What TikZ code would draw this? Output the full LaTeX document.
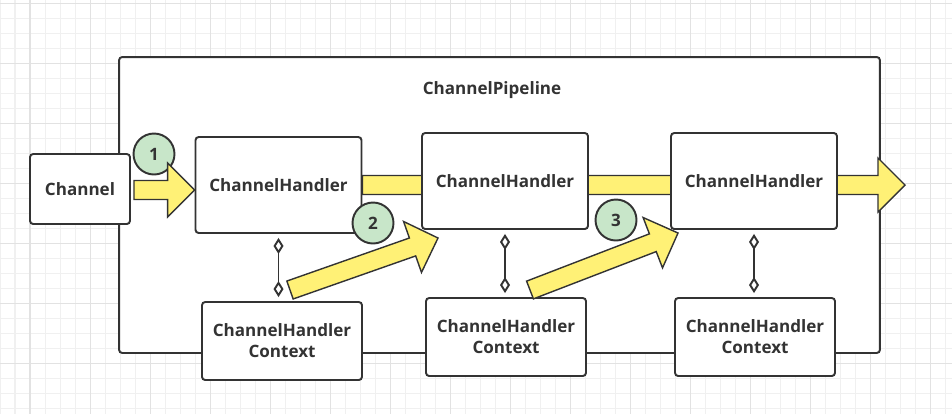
\documentclass[tikz,border=0pt]{standalone}
\usepackage{fontspec}
\setmainfont{Open Sans}
\usetikzlibrary{calc}
\usetikzlibrary{arrows.meta}
\usetikzlibrary{backgrounds}

\definecolor{ink}{HTML}{333333}
\definecolor{flow}{HTML}{FFF176}
\definecolor{stepgreen}{HTML}{C8E6C9}
\definecolor{gridminor}{HTML}{F0F0F0}
\definecolor{gridmajor}{HTML}{E2E2E2}

\tikzset{
    label text/.style={text=ink, font=\fontsize{9.7}{12}\selectfont\bfseries, align=center},
    box/.style={label text, draw=ink, fill=white, line width=1.1pt, rounded corners=1.8pt},
    handler/.style={box, minimum width=3.32cm, minimum height=1.92cm},
    context/.style={box, minimum width=3.2cm, minimum height=1.56cm},
    stepmark/.style={circle, draw=ink, fill=stepgreen, line width=1.1pt, minimum size=0.82cm, inner sep=0pt, label text},
    flowarrow/.style={draw=ink, fill=flow, line width=0.8pt},
    link/.style={draw=ink, line width=1.1pt, {Diamond[open,length=0.32cm,width=0.2cm]}-{Diamond[open,length=0.32cm,width=0.2cm]}, shorten <=0.08cm, shorten >=0.08cm}
}

% fat yellow arrow from #1 to #2
\newcommand\fatarrow[2]{
    \coordinate (fabase) at ($(#2)!0.54cm!(#1)$);
    \draw[flowarrow] ($(#1)!0.19cm!90:(#2)$) -- ($(fabase)!0.19cm!-90:(#1)$)
        -- ($(fabase)!0.54cm!-90:(#1)$) -- (#2) -- ($(fabase)!0.54cm!90:(#1)$)
        -- ($(fabase)!0.19cm!90:(#1)$) -- ($(#1)!0.19cm!-90:(#2)$) -- cycle;
}

\begin{document}
\begin{tikzpicture}[x=0.02cm, y=-0.02cm]
    \useasboundingbox (0,0) rectangle (952,414);

    \begin{scope}[on background layer]
        \foreach \x in {0,15,...,945} \draw[gridminor, line width=0.57pt] (\x,0) -- (\x,414);
        \foreach \y in {3,18,...,408} \draw[gridminor, line width=0.57pt] (0,\y) -- (952,\y);
        \foreach \x in {30,90,...,930} \draw[gridmajor, line width=0.57pt] (\x,0) -- (\x,414);
        \foreach \y in {3,63,...,363} \draw[gridmajor, line width=0.57pt] (0,\y) -- (952,\y);

        \node[box, minimum width=15.22cm, minimum height=5.92cm] (pipeline) at (499.5,205) {};
    \end{scope}

    \node[label text] (title) at (492,90) {ChannelPipeline};

    \node[box, minimum width=2cm, minimum height=1.4cm] (ch) at (80,189) {Channel};

    \node[handler] (h1) at (278.5,185) {ChannelHandler};
    \node[handler] (h2) at (505,181) {ChannelHandler};
    \node[handler] (h3) at (754,181) {ChannelHandler};

    \node[context] (c1) at (282,341) {ChannelHandler\\Context};
    \node[context] (c2) at (506,337) {ChannelHandler\\Context};
    \node[context] (c3) at (755,337) {ChannelHandler\\Context};

    \foreach \i in {1,2,3}
        \draw[link] (h\i.south) -- (h\i.south |- c\i.north);

    % main flow behind the handlers
    \coordinate (out) at (905,185);
    \begin{scope}[on background layer]
        \fatarrow{h1.east}{out}
    \end{scope}

    \node[stepmark] (s1) at (154,154) {1};
    \node[stepmark] (s2) at (373,223) {2};
    \node[stepmark] (s3) at (616,220) {3};

    \coordinate (a1s) at ($(ch.east)+(3,1)$);
    \coordinate (a1e) at (a1s -| h1.west);
    \fatarrow{a1s}{a1e}

    \coordinate (a2s) at (290,290);
    \coordinate (a2e) at (438,238);
    \fatarrow{a2s}{a2e}

    \coordinate (a3s) at (530,290);
    \coordinate (a3e) at (678,233);
    \fatarrow{a3s}{a3e}
\end{tikzpicture}
\end{document}
